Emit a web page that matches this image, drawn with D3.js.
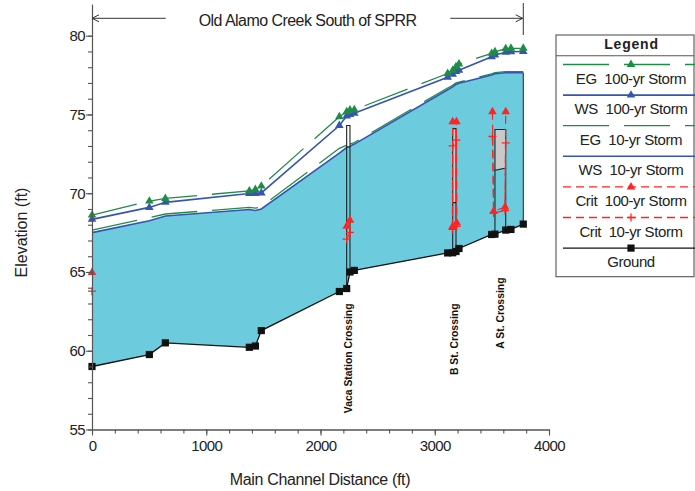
<!DOCTYPE html>
<html><head><meta charset="utf-8">
<script src="https://cdn.jsdelivr.net/npm/d3@7"></script>
<style>
html,body{margin:0;padding:0;background:#fff;}
svg{display:block;font-family:"Liberation Sans",Arial,sans-serif;}
</style></head>
<body>
<svg id="chart" width="695" height="491"></svg>
<script>
// ---------- data ----------
const stations = [0, 502, 642, 1377, 1430, 1482, 2165, 2229, 2258, 2296, 3113, 3157, 3186, 3212, 3498, 3527, 3621, 3667, 3775];
const ground   = [59.0, 59.76, 60.5, 60.22, 60.3, 61.28, 63.76, 63.95, 65.0, 65.1, 66.21, 66.22, 66.3, 66.49, 67.38, 67.4, 67.66, 67.7, 68.04];
const ws10     = [67.5, 68.25, 68.55, 68.97, 68.9, 69.0, 72.55, 72.9, 72.98, 73.12, 76.57, 76.75, 76.91, 76.98, 77.5, 77.58, 77.65, 77.65, 77.65];
const eg10     = [67.66, 68.45, 68.68, 69.1, 69.05, 69.15, 72.85, 73.05, 73.12, 73.22, 76.68, 76.85, 77.0, 77.06, 77.58, 77.65, 77.72, 77.72, 77.72];
const ws100    = [68.34, 69.1, 69.42, 69.98, 69.98, 70.02, 74.3, 74.9, 75.0, 75.08, 77.36, 77.55, 77.72, 77.8, 78.67, 78.78, 78.95, 78.98, 79.0];
const eg100    = [68.61, 69.5, 69.67, 70.15, 70.24, 70.45, 74.86, 75.17, 75.28, 75.3, 77.6, 77.8, 78.03, 78.2, 78.88, 78.98, 79.18, 79.2, 79.2];

const critStations = [0, 2229, 2258, 3155, 3157, 3190, 3192, 3505, 3515, 3615, 3621];
const critGroup    = [0, 1, 1, 2, 2, 2, 2, 3, 3, 3, 3];
const crit100      = [64.97, 67.9, 68.29, 67.87, 74.54, 74.54, 68.12, 75.17, 68.85, 69.12, 75.17];
const crit10       = [63.78, 67.08, 67.51, 67.7, 73.0, 73.37, 67.9, 73.6, 68.75, 68.9, 73.2];

const bridgeNames        = ["Vaca Station Crossing", "B St. Crossing", "A St. Crossing"];
const bridgeUp           = [2229, 3157, 3527];
const bridgeDown         = [2258, 3186, 3621];
const bridgeHighChord    = [74.3, 74.1, 74.05];
const bridgeLowChordUp   = [72.95, 69.4, 71.45];
const bridgeLowChordDown = [72.95, 69.4, 71.6];
const bridgeLabelTop     = [63.0, 63.0, 64.65];

const reachTitle = "Old Alamo Creek South of SPRR";
const xTicksMajor = [0, 1000, 2000, 3000, 4000];
const yTicksMajor = [55, 60, 65, 70, 75, 80];
const legendLabels = ["EG  100-yr Storm", "WS  100-yr Storm", "EG  10-yr Storm", "WS  10-yr Storm", "Crit  100-yr Storm", "Crit  10-yr Storm", "Ground"];
const xTitle = "Main Channel Distance (ft)";
const yTitle = "Elevation (ft)";

// ---------- styles ----------
const GREEN = "#1e8c46", BLUE = "#3654b0", RED = "#ff2424", CYAN = "#6ccbdc", BLACK = "#111";
const FONT_TICK = {size: 15, ls: -0.6};

const svg = d3.select("#chart");
const x = d3.scaleLinear().domain([0, 4000]).range([92, 549]);
const y = d3.scaleLinear().domain([55, 82]).range([429.5, 4.2]);

const pts = arr => stations.map((s, i) => [s, arr[i]]);
const line = d3.line().x(d => x(d[0])).y(d => y(d[1]));

// water fill between ground and WS 10-yr
svg.append("path")
  .datum(stations.map((s, i) => ({s, g: ground[i], w: ws10[i]})))
  .attr("d", d3.area().x(d => x(d.s)).y0(d => y(d.g)).y1(d => y(d.w)))
  .attr("fill", CYAN).attr("stroke", "none");
// right edge
const last = stations.length - 1;
svg.append("line")
  .attr("x1", x(stations[last])).attr("x2", x(stations[last]))
  .attr("y1", y(ws10[last])).attr("y2", y(ground[last]))
  .attr("stroke", "#222").attr("stroke-width", 1);

// lines
const series = [
  {data: eg10, color: GREEN, dash: "46,15", w: 1.3},
  {data: ws10, color: BLUE, dash: null, w: 1.6},
  {data: eg100, color: GREEN, dash: "46,15", w: 1.3},
  {data: ws100, color: BLUE, dash: null, w: 1.6},
];
series.forEach(sr => {
  svg.append("path").datum(pts(sr.data)).attr("d", line)
    .attr("fill", "none").attr("stroke", sr.color).attr("stroke-width", sr.w)
    .attr("stroke-dasharray", sr.dash);
});

// bridges
bridgeNames.forEach((name, i) => {
  const gU = ground[stations.indexOf(bridgeUp[i])];
  const gD = ground[stations.indexOf(bridgeDown[i])];
  svg.append("path")
    .attr("d", d3.line()([[x(bridgeUp[i]), y(bridgeHighChord[i])], [x(bridgeDown[i]), y(bridgeHighChord[i])],
                          [x(bridgeDown[i]), y(bridgeLowChordDown[i])], [x(bridgeUp[i]), y(bridgeLowChordUp[i])]]) + "Z")
    .attr("fill", i === 0 ? "#ffffff" : "#c9c9c9").attr("stroke", "#222").attr("stroke-width", 1.1);
  svg.append("line").attr("x1", x(bridgeUp[i])).attr("x2", x(bridgeUp[i]))
    .attr("y1", y(bridgeLowChordUp[i])).attr("y2", y(gU)).attr("stroke", "#222").attr("stroke-width", 1.1);
  svg.append("line").attr("x1", x(bridgeDown[i])).attr("x2", x(bridgeDown[i]))
    .attr("y1", y(bridgeLowChordDown[i])).attr("y2", y(gD)).attr("stroke", "#222").attr("stroke-width", 1.1);
  const cx = x((bridgeUp[i] + bridgeDown[i]) / 2) + 3.6;
  svg.append("text")
    .attr("transform", `translate(${cx},${y(bridgeLabelTop[i])}) rotate(-90)`)
    .attr("text-anchor", "end").attr("font-size", 10.4).attr("font-weight", "bold")
    .attr("fill", "#111").text(name);
});

// ground line and markers
svg.append("path").datum(pts(ground)).attr("d", line)
  .attr("fill", "none").attr("stroke", BLACK).attr("stroke-width", 1.3);

// crit lines
const critPts = arr => critStations.map((s, i) => ({s, v: arr[i], g: critGroup[i]}));
[crit100, crit10].forEach(arr => {
  const groups = d3.groups(critPts(arr), d => d.g);
  groups.forEach(([g, ps]) => {
    if (ps.length < 2) return;
    svg.append("path").datum(ps.map(p => [p.s, p.v])).attr("d", line)
      .attr("fill", "none").attr("stroke", RED).attr("stroke-width", 1.2).attr("stroke-dasharray", "8,5");
  });
});

// markers
const tri = d3.symbol(d3.symbolTriangle, 32);
const sq = d3.symbol(d3.symbolSquare, 52);
function markers(data, xs, color, kind) {
  const sel = svg.append("g").selectAll("path").data(xs.map((s, i) => [s, data[i]])).join("path")
    .attr("transform", d => `translate(${x(d[0])},${y(d[1])})`);
  if (kind === "tri") sel.attr("d", tri).attr("fill", color);
  else if (kind === "sq") sel.attr("d", sq).attr("fill", color);
  else sel.attr("d", "M-4,0H4M0,-4V4").attr("stroke", color).attr("stroke-width", 1.3).attr("fill", "none");
}
markers(ground, stations, BLACK, "sq");
markers(ws100, stations, BLUE, "tri");
markers(eg100, stations, GREEN, "tri");
markers(crit10, critStations, RED, "plus");
markers(crit100, critStations, RED, "tri");

// ---------- axes ----------
const axisColor = "#555";
function styleAxis(g) {
  g.selectAll("path,line").attr("stroke", axisColor).attr("stroke-width", 1.1);
  g.selectAll("text").attr("fill", "#222").attr("font-size", FONT_TICK.size)
    .attr("letter-spacing", FONT_TICK.ls).attr("font-family", "Liberation Sans, Arial, sans-serif");
}
svg.append("g").attr("transform", `translate(${x(0)},0)`)
  .call(d3.axisLeft(y).tickValues(d3.range(55, 81, 1)).tickSize(4).tickSizeOuter(0).tickFormat(""))
  .call(styleAxis);
svg.append("g").attr("transform", `translate(${x(0)},0)`)
  .call(d3.axisLeft(y).tickValues(yTicksMajor).tickSize(6).tickSizeOuter(0).tickPadding(1))
  .call(styleAxis);
svg.append("g").attr("transform", `translate(0,${y(55)})`)
  .call(d3.axisBottom(x).tickValues(d3.range(0, 4001, 200)).tickSize(4).tickSizeOuter(0).tickFormat(""))
  .call(styleAxis);
svg.append("g").attr("transform", `translate(0,${y(55)})`)
  .call(d3.axisBottom(x).tickValues(xTicksMajor).tickSize(6).tickSizeOuter(0).tickPadding(5).tickFormat(d3.format("d")))
  .call(styleAxis);

svg.append("text").attr("x", 320).attr("y", 484.5).attr("text-anchor", "middle")
  .attr("font-size", 16).attr("letter-spacing", -0.35).attr("fill", "#222").text(xTitle);
svg.append("text").attr("transform", "translate(27,232.5) rotate(-90)").attr("text-anchor", "middle")
  .attr("font-size", 16).attr("fill", "#222").text(yTitle);

// ---------- reach annotation ----------
const xa = x(0), xb = x(stations[last]), ya = 18.3;
const ann = svg.append("g").attr("stroke", "#333").attr("stroke-width", 1).attr("fill", "none");
ann.append("line").attr("x1", xa).attr("x2", xa + 73.7).attr("y1", ya).attr("y2", ya);
ann.append("path").attr("d", `M${xa + 7},${ya - 3.5}L${xa},${ya}L${xa + 7},${ya + 3.5}`);
ann.append("line").attr("x1", xb - 73).attr("x2", xb - 0.6).attr("y1", ya).attr("y2", ya);
ann.append("path").attr("d", `M${xb - 7.6},${ya - 3.5}L${xb - 0.6},${ya}L${xb - 7.6},${ya + 3.5}`);
ann.append("line").attr("x1", xb).attr("x2", xb).attr("y1", 3).attr("y2", 35);
svg.append("text").attr("x", (xa + xb) / 2).attr("y", 26).attr("text-anchor", "middle")
  .attr("font-size", 16).attr("letter-spacing", -0.55).attr("fill", "#222").text(reachTitle);

// ---------- legend ----------
const legStyles = [
  {color: GREEN, dash: "46,15", marker: "tri"},
  {color: BLUE, dash: null, marker: "tri"},
  {color: GREEN, dash: "46,15", marker: null},
  {color: BLUE, dash: null, marker: null},
  {color: RED, dash: "8,5", marker: "tri"},
  {color: RED, dash: "8,5", marker: "plus"},
  {color: BLACK, dash: null, marker: "sq"},
];
const lg = svg.append("g");
lg.append("rect").attr("x", 556).attr("y", 35).attr("width", 138).attr("height", 241.7)
  .attr("fill", "#fff").attr("stroke", "#555").attr("stroke-width", 1.1);
lg.append("line").attr("x1", 556).attr("x2", 694).attr("y1", 55.7).attr("y2", 55.7).attr("stroke", "#555").attr("stroke-width", 1.1);
lg.append("text").attr("x", 631.5).attr("y", 49).attr("text-anchor", "middle").attr("font-size", 14)
  .attr("font-weight", "bold").attr("letter-spacing", 0.8).attr("fill", "#222").text("Legend");
legendLabels.forEach((lab, i) => {
  const st = legStyles[i];
  const ly = 64.5 + i * 30.6;
  lg.append("line").attr("x1", 563).attr("x2", 695).attr("y1", ly).attr("y2", ly)
    .attr("stroke", st.color).attr("stroke-width", st.color === BLUE ? 1.6 : 1.3).attr("stroke-dasharray", st.dash);
  if (st.marker === "tri") lg.append("path").attr("d", tri).attr("transform", `translate(631,${ly})`).attr("fill", st.color);
  if (st.marker === "sq") lg.append("path").attr("d", sq).attr("transform", `translate(631,${ly})`).attr("fill", st.color);
  if (st.marker === "plus") lg.append("path").attr("d", "M-4,0H4M0,-4V4").attr("transform", `translate(631,${ly})`)
    .attr("stroke", st.color).attr("stroke-width", 1.3);
  lg.append("text").attr("x", 631).attr("y", ly + 19).attr("text-anchor", "middle").attr("font-size", 15)
    .attr("letter-spacing", -0.4).attr("fill", "#222").style("white-space", "pre").text(lab);
});
</script>
</body></html>
